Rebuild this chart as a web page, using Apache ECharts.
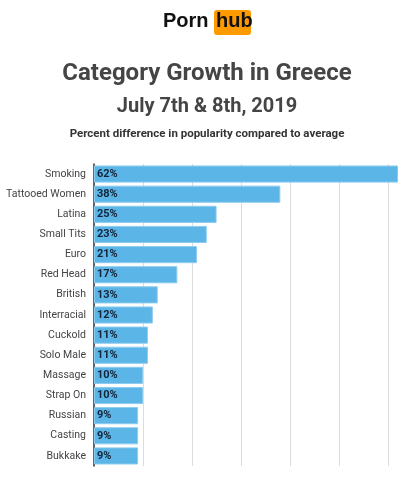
<!DOCTYPE html>
<html>
<head>
<meta charset="utf-8">
<script src="https://cdn.jsdelivr.net/npm/echarts@6/dist/echarts.min.js"></script>
<style>
  html, body { margin: 0; padding: 0; background: #fff; }
  #chart { width: 398px; height: 499px; }
</style>
</head>
<body>
<div id="chart"></div>
<script>
// categories and growth values (% above average)
const categories = [
  'Smoking', 'Tattooed Women', 'Latina', 'Small Tits', 'Euro',
  'Red Head', 'British', 'Interracial', 'Cuckold', 'Solo Male',
  'Massage', 'Strap On', 'Russian', 'Casting', 'Bukkake'
];
const growth = [62, 38, 25, 23, 21, 17, 13, 12, 11, 11, 10, 10, 9, 9, 9];

const titleText = 'Category Growth in Greece';
const dateText = 'July 7th & 8th, 2019';
const noteText = 'Percent difference in popularity compared to average';

const chart = echarts.init(document.getElementById('chart'));

// headings are centred on the logo, a bit right of the page centre
const headCx = 207;

const option = {
  animation: false,
  backgroundColor: '#fff',
  textStyle: { fontFamily: 'Roboto' },
  graphic: [
    {
      type: 'text', left: 163, top: 11,
      style: { text: 'Porn', fontSize: 20, fontWeight: 'bold', fontFamily: 'Liberation Sans', fill: '#111' }
    },
    {
      type: 'rect', left: 214, top: 10,
      shape: { width: 37, height: 25, r: 3 },
      style: { fill: '#ff9a00' }
    },
    {
      type: 'text', left: 216, top: 11,
      style: { text: 'hub', fontSize: 20, fontWeight: 'bold', fontFamily: 'Liberation Sans', fill: '#111' }
    },
    {
      type: 'text',
      style: {
        x: headCx, y: 62, text: titleText, align: 'center', verticalAlign: 'top',
        fontSize: 24, fontWeight: 'bold', fontFamily: 'Roboto', fill: '#454545'
      }
    },
    {
      type: 'text',
      style: {
        x: headCx, y: 97, text: dateText, align: 'center', verticalAlign: 'top',
        fontSize: 20, fontWeight: 'bold', fontFamily: 'Roboto', fill: '#454545'
      }
    },
    {
      type: 'text',
      style: {
        x: headCx, y: 128, text: noteText, align: 'center', verticalAlign: 'top',
        fontSize: 11.5, fontWeight: 'bold', fontFamily: 'Roboto', fill: '#333'
      }
    }
  ],
  grid: { left: 94, right: 0, top: 164, bottom: 33, containLabel: false },
  xAxis: {
    type: 'value', min: 0, max: 62, interval: 10,
    axisLabel: { show: false },
    axisLine: { show: false },
    axisTick: { show: false },
    splitLine: { show: true, showMaxLine: false, lineStyle: { color: '#dcdcdc', width: 1 } }
  },
  yAxis: {
    type: 'category', data: categories, inverse: true,
    axisLine: { show: true, lineStyle: { color: '#333', width: 1.5 } },
    axisTick: { show: false },
    axisLabel: { color: '#444', fontSize: 10.5, fontFamily: 'Roboto', margin: 8 }
  },
  series: [{
    type: 'bar',
    data: growth,
    barWidth: '85%',
    itemStyle: { color: '#5bb5e6', borderColor: '#8ccbef', borderWidth: 1 },
    label: {
      show: true, position: 'insideLeft', distance: 3,
      formatter: '{c}%', color: '#14243a', fontWeight: 'bold', fontSize: 11, fontFamily: 'Roboto'
    }
  }]
};

chart.setOption(option);
</script>
</body>
</html>
